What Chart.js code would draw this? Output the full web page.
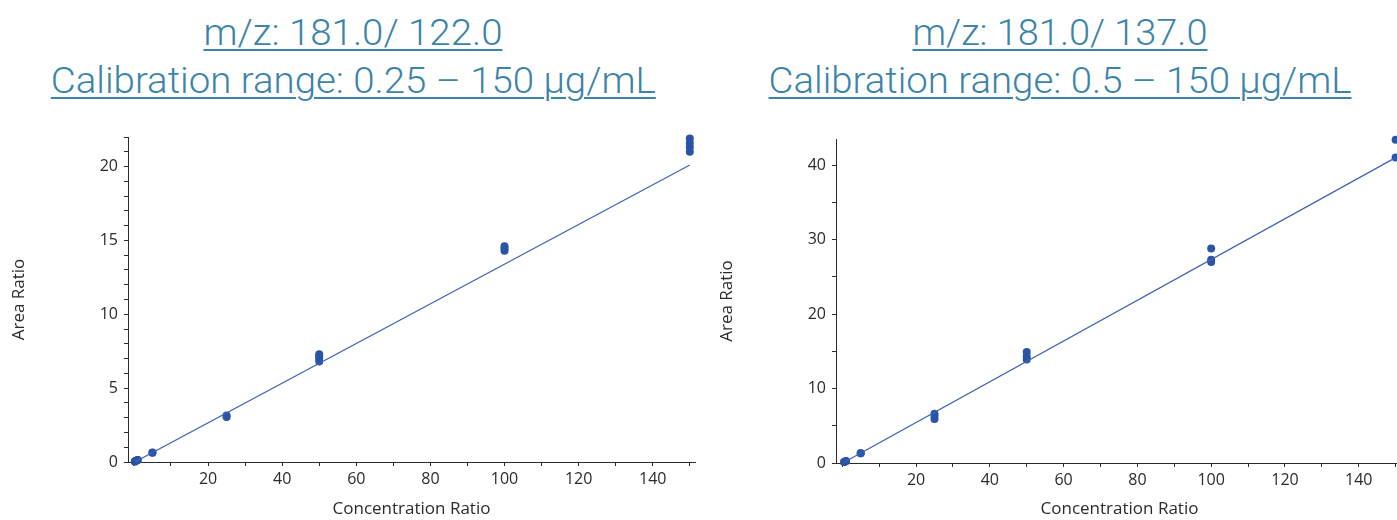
<!DOCTYPE html>
<html>
<head>
<meta charset="utf-8">
<script src="https://cdn.jsdelivr.net/npm/chart.js@4/dist/chart.umd.min.js"></script>
<style>
  html, body { margin: 0; padding: 0; background: #fff; }
  body { width: 1397px; height: 520px; overflow: hidden; position: relative; }
  .title { position: absolute; text-align: center; color: #3c84a7; white-space: nowrap;
           font-family: Roboto, "DejaVu Sans Condensed", sans-serif; font-weight: 300; font-size: 37px; }
  .title span { display: inline-block; text-decoration: underline; text-decoration-thickness: 2px;
                text-underline-offset: 4px; transform-origin: center; }
  canvas { position: absolute; }
</style>
</head>
<body>
<div class="title" style="left:0;width:706px;top:11px;"><span data-w="299">m/z: 181.0/ 122.0</span></div>
<div class="title" style="left:0;width:706px;top:59px;"><span data-w="605">Calibration range: 0.25 – 150 µg/mL</span></div>
<div class="title" style="left:708px;width:704px;top:11px;"><span data-w="295">m/z: 181.0/ 137.0</span></div>
<div class="title" style="left:708px;width:704px;top:59px;"><span data-w="583">Calibration range: 0.5 – 150 µg/mL</span></div>

<canvas id="chartLeft" width="710" height="410" style="left:0;top:110px;"></canvas>
<canvas id="chartRight" width="700" height="410" style="left:708px;top:110px;"></canvas>

<script>
// m/z 181.0 / 122.0  (calibration 0.25 - 150)
const concLeft = [0.25, 0.25, 0.5, 0.5, 1, 1, 5, 5, 25, 25, 50, 50, 50, 50, 100, 100, 100, 150, 150, 150, 150];
const areaLeft = [0.03, 0.04, 0.07, 0.08, 0.13, 0.14, 0.62, 0.64, 3.05, 3.15, 6.8, 7.0, 7.15, 7.3, 14.3, 14.45, 14.6, 21.0, 21.3, 21.6, 21.9];
const fitLeftX = [0.25, 150];
const fitLeftY = [0.0, 20.1];

// m/z 181.0 / 137.0  (calibration 0.5 - 150)
const concRight = [0.5, 0.5, 1, 1, 5, 5, 25, 25, 25, 50, 50, 50, 100, 100, 100, 150, 150];
const areaRight = [0.12, 0.13, 0.25, 0.27, 1.3, 1.32, 5.9, 6.3, 6.6, 13.9, 14.3, 14.9, 27.0, 27.3, 28.8, 41.0, 43.4];
const fitRightX = [0.5, 150];
const fitRightY = [0.1, 41.0];

// fit the title text widths
document.querySelectorAll('.title span').forEach(s => {
    const w = s.getBoundingClientRect().width;
    s.style.transform = 'scaleX(' + (Number(s.dataset.w) / w) + ')';
});

const dotColor = '#2a54a6';
const lineColor = '#3d62b4';
const axisColor = '#2b2b2b';
const fontFamily = '"Open Sans", "Noto Sans", sans-serif';

function toPoints(xs, ys) {
    return xs.map((x, i) => ({ x: x, y: ys[i] }));
}

function makeChart(id, conc, area, fitX, fitY, xr, yr, pad, xHeight) {
    const ctx = document.getElementById(id).getContext('2d');
    return new Chart(ctx, {
        type: 'scatter',
        data: {
            datasets: [{
                type: 'line',
                data: toPoints(fitX, fitY),
                borderColor: lineColor,
                borderWidth: 1.2,
                pointRadius: 0,
                fill: false
            }, {
                data: toPoints(conc, area),
                backgroundColor: dotColor,
                borderWidth: 0,
                pointRadius: 4,
                clip: false
            }]
        },
        options: {
            responsive: false,
            animation: false,
            layout: { padding: pad },
            plugins: { legend: { display: false }, tooltip: { enabled: false } },
            scales: {
                x: {
                    type: 'linear',
                    min: xr.min, max: xr.max,
                    afterFit: s => { s.height = xHeight; },
                    border: { display: true, color: axisColor, width: 1 },
                    grid: { drawOnChartArea: false, drawTicks: true, tickLength: 4, tickColor: axisColor },
                    ticks: {
                        stepSize: 10, includeBounds: false, autoSkip: false, maxRotation: 0, padding: 4,
                        color: axisColor, font: { family: fontFamily, size: 16 },
                        callback: v => (v % 20 === 0 && v !== 0) ? v : ''
                    },
                    title: { display: true, text: 'Concentration Ratio', color: axisColor,
                             font: { family: fontFamily, size: 17 }, padding: { top: 0, bottom: 1 } }
                },
                y: {
                    type: 'linear',
                    min: yr.min, max: yr.max,
                    afterFit: s => { s.width = 128; },
                    border: { display: true, color: axisColor, width: 1 },
                    grid: { drawOnChartArea: false, drawTicks: true, tickLength: 4, tickColor: axisColor },
                    ticks: {
                        stepSize: yr.minor, includeBounds: false, autoSkip: false, padding: 6,
                        color: axisColor, font: { family: fontFamily, size: 16 },
                        callback: v => (v % yr.major === 0) ? v : ''
                    },
                    title: { display: true, text: 'Area Ratio', color: axisColor,
                             font: { family: fontFamily, size: 17 }, padding: { top: 9, bottom: 0 } }
                }
            }
        }
    });
}

makeChart('chartLeft', concLeft, areaLeft, fitLeftX, fitLeftY,
    { min: -1.6, max: 151.4 }, { min: 0, max: 22, minor: 1, major: 5 },
    { top: 27, right: 15, left: 0, bottom: 0 }, 58);

makeChart('chartRight', concRight, areaRight, fitRightX, fitRightY,
    { min: -1.7, max: 152 }, { min: 0, max: 43.5, minor: 5, major: 10 },
    { top: 29, right: 5, left: 0, bottom: 0 }, 57);
</script>
</body>
</html>
